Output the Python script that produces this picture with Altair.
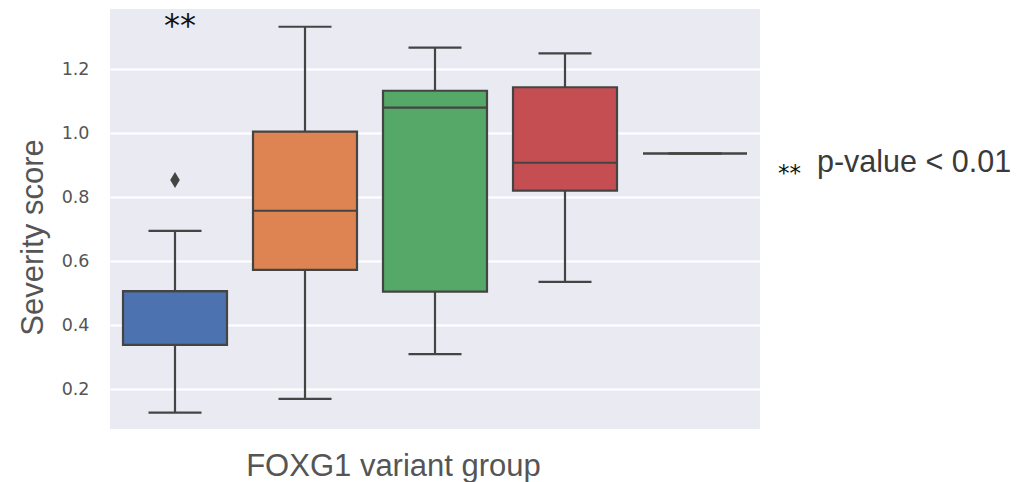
import altair as alt
import pandas as pd

groups = ["1", "2", "3", "4", "5"]
colors = ["#4C72B0", "#DD8452", "#55A868", "#C44E52", "#8172B3"]
q1 = [0.338, 0.572, 0.504, 0.820, 0.936]
q3 = [0.506, 1.004, 1.132, 1.143, 0.936]
median = [0.506, 0.757, 1.079, 0.907, 0.936]
whisker_lo = [0.126, 0.169, 0.309, 0.535, 0.936]
whisker_hi = [0.694, 1.332, 1.267, 1.249, 0.936]
outlier_group = ["1"]
outlier_value = [0.853]
y_ticks = [0.2, 0.4, 0.6, 0.8, 1.0, 1.2]

df = pd.DataFrame({"group": groups, "q1": q1, "q3": q3, "median": median,
                   "lo": whisker_lo, "hi": whisker_hi})
out_df = pd.DataFrame({"group": outlier_group, "value": outlier_value})
ann_df = pd.DataFrame({"group": ["1"], "value": [1.303], "label": ["**"]})

LINE = "#444444"

x_enc = alt.X("group:N", scale=alt.Scale(domain=groups, paddingInner=0.2, paddingOuter=0.1),
              axis=alt.Axis(title="FOXG1 variant group", labels=False, ticks=False, domain=False,
                            grid=False, titleFont="Liberation Sans", titleFontSize=31,
                            titleFontWeight="normal", titleColor="#555555",
                            titleX=283, titleY=46, titleBaseline="alphabetic", titleAlign="center"))
y_scale = alt.Scale(domain=[0.075, 1.3875], nice=False, zero=False)
y_axis = alt.Axis(title="Severity score", values=y_ticks, format=".1f", ticks=False, tickSize=0,
                  domain=False, grid=True, gridColor="white", gridWidth=2, gridOpacity=1,
                  labelFont="DejaVu Sans", labelFontSize=17.5, labelColor="#555555", labelPadding=21,
                  titleFont="Liberation Sans", titleFontSize=31, titleFontWeight="normal",
                  titleColor="#555555", titleAngle=-90, titleX=-68, titleY=228,
                  titleAlign="center", titleBaseline="alphabetic")

base = alt.Chart(df)

whisk_lo = base.mark_rule(color=LINE, strokeWidth=2.2).encode(
    x=x_enc, y=alt.Y("lo:Q", scale=y_scale, axis=y_axis), y2="q1:Q")
whisk_hi = base.mark_rule(color=LINE, strokeWidth=2.2).encode(
    x="group:N", y="q3:Q", y2="hi:Q")
cap_lo = base.mark_tick(color=LINE, size=53, thickness=2.2, opacity=1).encode(x="group:N", y="lo:Q")
cap_hi = base.mark_tick(color=LINE, size=53, thickness=2.2, opacity=1).encode(x="group:N", y="hi:Q")
boxes = base.mark_bar(stroke=LINE, strokeWidth=2.2, opacity=1).encode(
    x="group:N", y="q1:Q", y2="q3:Q",
    color=alt.Color("group:N", scale=alt.Scale(domain=groups, range=colors), legend=None))
med = base.mark_tick(color=LINE, size=104, thickness=2.2, opacity=1).encode(x="group:N", y="median:Q")

outl = alt.Chart(out_df).mark_point(shape="M0,-1L0.6,0L0,1L-0.6,0Z", filled=True, size=256,
                                     color=LINE, opacity=1).encode(x="group:N", y="value:Q")

star = alt.Chart(ann_df).mark_text(font="DejaVu Sans", fontSize=32, color="#111111",
                                   align="center", baseline="alphabetic", dx=5).encode(
    x="group:N", y="value:Q", text="label:N")

legend_star = alt.Chart(ann_df).mark_text(font="DejaVu Sans", fontSize=23, color="#111111",
                                          align="left", baseline="alphabetic").encode(
    x=alt.value(668), y=alt.value(171.5), text=alt.value("**"))
legend_txt = alt.Chart(ann_df).mark_text(font="Liberation Sans", fontSize=30.5, color="#3a3a3a",
                                         align="left", baseline="alphabetic").encode(
    x=alt.value(707), y=alt.value(163), text=alt.value("p-value < 0.01"))

chart = alt.layer(whisk_lo, whisk_hi, cap_lo, cap_hi, boxes, med, outl, star,
                  legend_star, legend_txt).properties(
    width=650, height=420,
    autosize=alt.AutoSizeParams(type="none"),
    padding={"left": 102, "top": 1, "right": 253, "bottom": 56},
    background="white",
).configure_view(fill="#EAEAF2", stroke=None)

chart.save("out.html", embed_options={"renderer": "svg", "actions": False})
